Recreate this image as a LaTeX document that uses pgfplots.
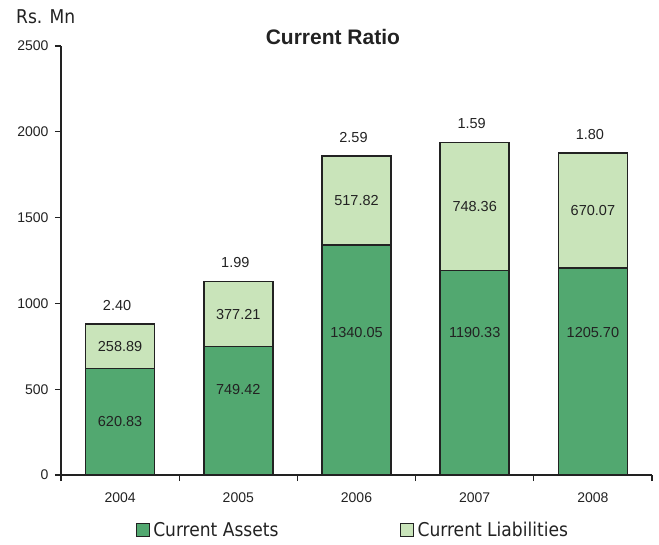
\documentclass[border=0pt]{standalone}
\usepackage{pgfplots}
\usepackage{pgfplotstable}
\pgfplotsset{compat=1.18}
\usepackage{fontspec}
\setmainfont{Liberation Sans}
\newfontfamily\legfont{DejaVu Sans Condensed}
\definecolor{dkg}{HTML}{52A870}
\definecolor{ltg}{HTML}{C9E4BA}
\definecolor{ink}{HTML}{222222}

% o = upward offset (pt) of the asset label from the segment centre
\pgfplotstableread{
x a l z r o
0 620.83 258.89 0 2.40 0
1 749.42 377.21 0 1.99 20.7
2 1340.05 517.82 0 2.59 27.3
3 1190.33 748.36 0 1.59 40.6
4 1205.70 670.07 0 1.80 39.3
}\data

\begin{document}
\begin{tikzpicture}
\useasboundingbox (-61pt,-69pt) rectangle (598pt,475pt);
\begin{axis}[
  scale only axis, width=591pt, height=429pt,
  ybar stacked, bar width=69pt,
  stacked ignores zero=false,
  xmin=-0.5, xmax=4.5, ymin=0, ymax=2500,
  axis lines*=left,
  axis line style={ink, line width=1.2pt, -},
  xtick={-0.5,0.5,...,4.5},
  xticklabels={,,,,,,},
  extra x ticks={0,1,2,3,4},
  extra x tick labels={2004,2005,2006,2007,2008},
  extra x tick style={major tick length=0pt},
  ytick={0,500,...,2500},
  scaled y ticks=false,
  /pgf/number format/1000 sep={},
  /pgf/number format/assume math mode=true,
  major tick length=6pt,
  tick align=outside,
  tick style={ink, line width=1.2pt},
  tick label style={font=\fontsize{14}{16}\selectfont, text=ink},
  xticklabel style={yshift=-14pt},
  yticklabel style={xshift=-3pt},
  title={Current Ratio},
  title style={font=\bfseries\fontsize{21}{24}\selectfont, text=ink,
    at={(axis description cs:0.46,1.007)}, anchor=center},
  legend columns=2,
  legend style={at={(axis description cs:0.5,0)}, anchor=center,
    xshift=-3pt, yshift=-55pt, draw=none, fill=none, inner sep=0pt,
    font=\legfont\fontsize{19}{21}\selectfont, text=ink,
    nodes={inner sep=3.5pt},
    /tikz/every even column/.append style={column sep=118pt}},
  legend image code/.code={\draw[#1, line width=1.2pt] (0pt,-6.5pt) rectangle (13pt,6.5pt);},
  clip=false,
]
\addplot[fill=dkg, draw=ink, line width=1.5pt,
  point meta=explicit symbolic, nodes near coords,
  visualization depends on={\thisrow{o} \as \oy},
  every node near coord/.style={anchor=center, yshift=\oy pt,
    font=\fontsize{14.5}{16}\selectfont, text=ink}]
  table[x=x, y=a, meta=a] {\data};
\addlegendentry{Current Assets}
\addplot[fill=ltg, draw=ink, line width=1.5pt,
  point meta=explicit symbolic, nodes near coords,
  every node near coord/.style={anchor=center,
    font=\fontsize{14.5}{16}\selectfont, text=ink}]
  table[x=x, y=l, meta=l] {\data};
\addlegendentry{Current Liabilities}
\addplot[draw=none, fill=none,
  point meta=explicit symbolic, nodes near coords,
  every node near coord/.style={anchor=center, yshift=19pt, xshift=-3pt,
    font=\fontsize{14.5}{16}\selectfont, text=ink}]
  table[x=x, y=z, meta=r] {\data};
\node[anchor=base west, inner sep=0pt, font=\legfont\fontsize{19}{21}\selectfont, text=ink]
  at (rel axis cs:0,1) [xshift=-45pt, yshift=22pt] {Rs. Mn};
\end{axis}
\end{tikzpicture}
\end{document}
